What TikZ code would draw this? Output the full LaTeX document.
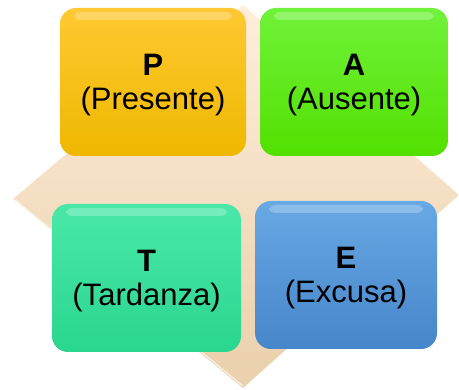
\documentclass[tikz,border=0pt]{standalone}
\usepackage{fontspec}
\setmainfont{Liberation Sans}
\definecolor{peachtop}{HTML}{FEEEDA}
\definecolor{peachbot}{HTML}{EAD0AC}
\definecolor{goldtop}{HTML}{FFC933}
\definecolor{goldbot}{HTML}{EEB800}
\definecolor{greentop}{HTML}{70F23A}
\definecolor{greenbot}{HTML}{52E000}
\definecolor{mintop}{HTML}{4AE8A8}
\definecolor{minbot}{HTML}{2AD68E}
\definecolor{bluetop}{HTML}{68A8E4}
\definecolor{bluebot}{HTML}{4686CA}
\tikzset{
  cell/.style={rounded corners=16pt, inner sep=0pt, outer sep=0pt,
    minimum height=148pt, align=center,
    font=\fontsize{31}{34}\selectfont},
  gloss/.style={white, opacity=0.25, rounded corners=6pt}
}
\begin{document}
\begin{tikzpicture}[x=1pt,y=-1pt]
\useasboundingbox (0,0) rectangle (459,390);
% background diamond
\shade[top color=peachtop, bottom color=peachbot]
  (243,5) -- (459,195) -- (243,388) -- (13,199) -- cycle;
\draw[white, opacity=0.7, line width=1.2pt] (15,200) -- (243,386);
% four cells
\node[cell, minimum width=186pt, top color=goldtop, bottom color=goldbot] (p) at (153,82) {};
\node[cell, minimum width=188pt, top color=greentop, bottom color=greenbot] (a) at (354,82) {};
\node[cell, minimum width=189pt, top color=mintop, bottom color=minbot] (t) at (146.5,278) {};
\node[cell, minimum width=182pt, top color=bluetop, bottom color=bluebot] (e) at (346,275) {};
% glossy bands
\foreach \c in {p,a,t,e}
  \fill[gloss] ([xshift=14pt,yshift=-4pt]\c.north west) rectangle ([xshift=-14pt,yshift=-12pt]\c.north east);
% labels
\node[cell, minimum height=0pt] (plabel) at ([yshift=-3pt]p.center) {\textbf{P}\\(Presente)};
\node[cell, minimum height=0pt] (alabel) at ([yshift=-3pt]a.center) {\textbf{A}\\(Ausente)};
\node[cell, minimum height=0pt] (tlabel) at ([yshift=-3pt]t.center) {\textbf{T}\\(Tardanza)};
\node[cell, minimum height=0pt] (elabel) at ([yshift=-3pt]e.center) {\textbf{E}\\(Excusa)};
\end{tikzpicture}
\end{document}
